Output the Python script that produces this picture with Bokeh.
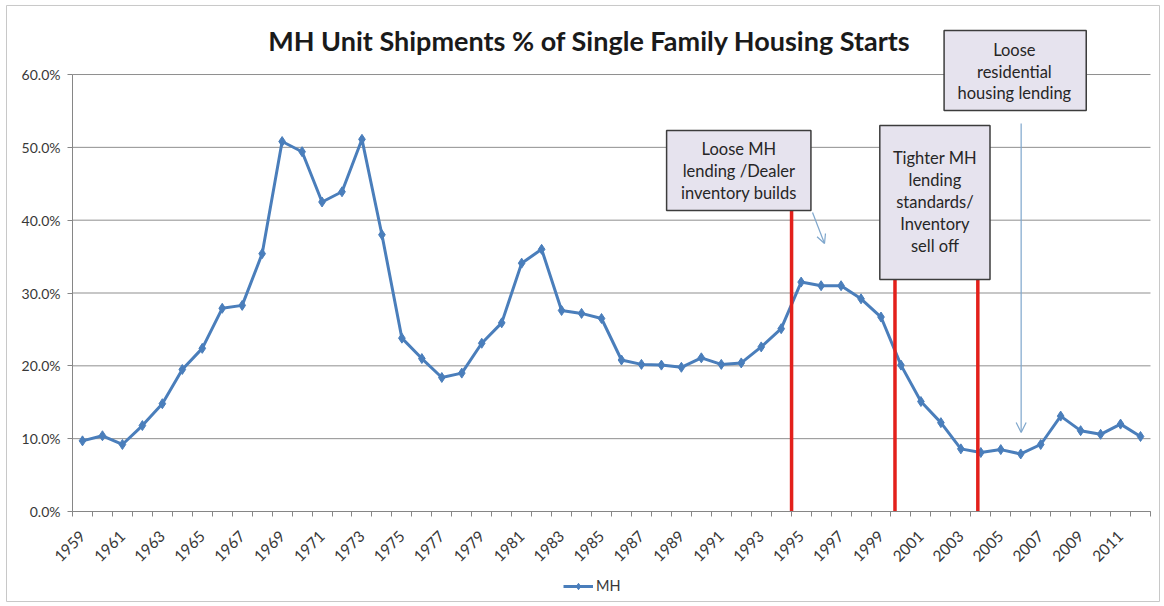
from bokeh.plotting import figure
from bokeh.models import (Range1d, FixedTicker, NumeralTickFormatter, ColumnDataSource,
                          Legend, LegendItem, Arrow, OpenHead, LinearAxis)
from bokeh.embed import file_html
from bokeh.resources import INLINE
from bokeh.core.properties import value

# ---------------- data ----------------
years = list(range(1959, 2013))
mh_share_pct = [9.7, 10.4, 9.2, 11.8, 14.8, 19.5, 22.4, 27.9, 28.3, 35.4,
                50.8, 49.4, 42.5, 43.9, 51.1, 38.0, 23.8, 21.0, 18.4, 19.0,
                23.1, 25.9, 34.1, 36.0, 27.6, 27.2, 26.5, 20.8, 20.2, 20.1,
                19.8, 21.1, 20.2, 20.4, 22.6, 25.1, 31.5, 31.0, 31.0, 29.2,
                26.7, 20.1, 15.1, 12.2, 8.6, 8.1, 8.5, 7.9, 9.2, 13.1,
                11.1, 10.6, 12.0, 10.3]
series_name = "MH"
y_ticks = [0.0, 0.1, 0.2, 0.3, 0.4, 0.5, 0.6]
x_label_years = years[::2]

title_text = "MH Unit Shipments % of Single Family Housing Starts"

# annotation boxes (data units: year, share)
box_left = [1988.26, 1998.94, 2002.16]
box_right = [1995.49, 2004.46, 2009.28]
box_top = [0.5231, 0.5300, 0.6604]
box_bottom = [0.4133, 0.3186, 0.5506]

note_lines = ["Loose MH", "lending /Dealer", "inventory builds",
              "Tighter MH", "lending", "standards/", "Inventory", "sell off",
              "Loose", "residential", "housing lending"]
note_x = [1991.88] * 3 + [2001.70] * 5 + [2005.68] * 3
note_y = [0.4984, 0.4682, 0.4380,
          0.4847, 0.4545, 0.4243, 0.3941, 0.3639,
          0.6343, 0.6041, 0.5753]

# red marker lines
red_x = [1994.52, 1999.70, 2003.85]
red_top = [0.4133, 0.3186, 0.3186]

# ---------------- figure ----------------
x_lo, x_hi = years[0] - 0.5, years[-1] + 0.5
p = figure(frame_width=1164, frame_height=606, output_backend="svg",
           toolbar_location=None, title=None,
           x_range=Range1d(1954.893, 2013.201), y_range=Range1d(-0.13044, 0.70163),
           x_axis_location=None, y_axis_location=None,
           min_border_left=0, min_border_right=0, min_border_top=0,
           min_border_bottom=0)
p.outline_line_color = None
p.background_fill_color = "white"
p.border_fill_color = "white"
p.xgrid.visible = False
p.ygrid.visible = False

# outer chart border
p.quad(left=[1955.193], right=[2012.951], top=[0.6948], bottom=[-0.1236],
       fill_color=None, line_color="#c8c8c8", line_width=1)

# horizontal gridlines (from the y ticks)
p.segment(x0=[x_lo] * len(y_ticks), x1=[x_hi] * len(y_ticks), y0=y_ticks, y1=y_ticks,
          line_color="#8f8f8f", line_width=1)

# y axis
yax = LinearAxis(fixed_location=x_lo)
yax.ticker = FixedTicker(ticks=y_ticks)
yax.formatter = NumeralTickFormatter(format="0.0%")
yax.bounds = (0, 0.6)
yax.axis_line_color = "#868686"
yax.major_tick_line_color = "#868686"
yax.major_tick_out = 5
yax.major_tick_in = 0
yax.minor_tick_line_color = None
yax.major_label_standoff = 7
yax.major_label_text_font = "Lato"
yax.major_label_text_font_size = "14px"
yax.major_label_text_color = "#383838"
p.add_layout(yax, "left")

# x axis
boundaries = [y - 0.5 for y in years] + [years[-1] + 0.5]
xax = LinearAxis(fixed_location=0)
xax.ticker = FixedTicker(ticks=x_label_years, minor_ticks=boundaries)
xax.major_label_overrides = {y: str(y) for y in x_label_years}
xax.bounds = (x_lo, x_hi)
xax.axis_line_color = "#868686"
xax.major_tick_line_color = None
xax.major_tick_out = 0
xax.major_tick_in = 0
xax.minor_tick_line_color = "#868686"
xax.minor_tick_out = 5
xax.minor_tick_in = 0
xax.major_label_orientation = 0.785398
xax.major_label_standoff = 17
xax.major_label_text_font = "Lato"
xax.major_label_text_font_size = "15.5px"
xax.major_label_text_color = "#383838"
p.add_layout(xax, "below")

# data
src = ColumnDataSource(dict(year=years, share=[v / 100 for v in mh_share_pct]))
blue = "#4a7ebb"
r_line = p.line("year", "share", source=src, line_color=blue, line_width=3)
r_pts = p.scatter("year", "share", source=src, marker="diamond", size=10,
                  fill_color=blue, line_color=blue)

# red vertical lines
p.segment(x0=red_x, y0=[0] * 3, x1=red_x, y1=red_top, line_color="#e3201b", line_width=3.5)

# arrows
arrow_color = "#7ea6cc"
p.add_layout(Arrow(x_start=1995.57, y_start=0.4105, x_end=1996.17, y_end=0.3680,
                   line_color=arrow_color, line_width=1.2,
                   end=OpenHead(size=9, line_color=arrow_color, line_width=1.2)))
p.add_layout(Arrow(x_start=2006.02, y_start=0.5327, x_end=2006.02, y_end=0.1085,
                   line_color=arrow_color, line_width=1.2,
                   end=OpenHead(size=10, line_color=arrow_color, line_width=1.2)))

# boxes
p.quad(left=box_left, right=box_right, top=box_top, bottom=box_bottom,
       fill_color="#e6e3ee", line_color="#3c3c3c", line_width=1.5)

note_src = ColumnDataSource(dict(x=note_x, y=note_y, t=note_lines))
p.text("x", "y", text="t", source=note_src, text_align="center",
       text_baseline="middle", text_font=value("Lato"), text_font_size="16.5px",
       text_color="#262626")

# title
p.text(x=[1984.40], y=[0.6467], text=[title_text], text_align="center",
       text_baseline="middle", text_font=value("Lato"), text_font_size="27px",
       text_font_style="bold", text_color="#1a1a1a")

# legend
legend = Legend(items=[LegendItem(label=series_name, renderers=[r_line, r_pts])],
                orientation="horizontal", location=(563, 12),
                label_text_font="Lato", label_text_font_size="14.5px",
                label_text_color="#383838", border_line_color=None,
                background_fill_alpha=0, glyph_width=30, glyph_height=16,
                margin=0, padding=4, label_standoff=3)
p.add_layout(legend)

open("out.html", "w").write(file_html(p, INLINE))
